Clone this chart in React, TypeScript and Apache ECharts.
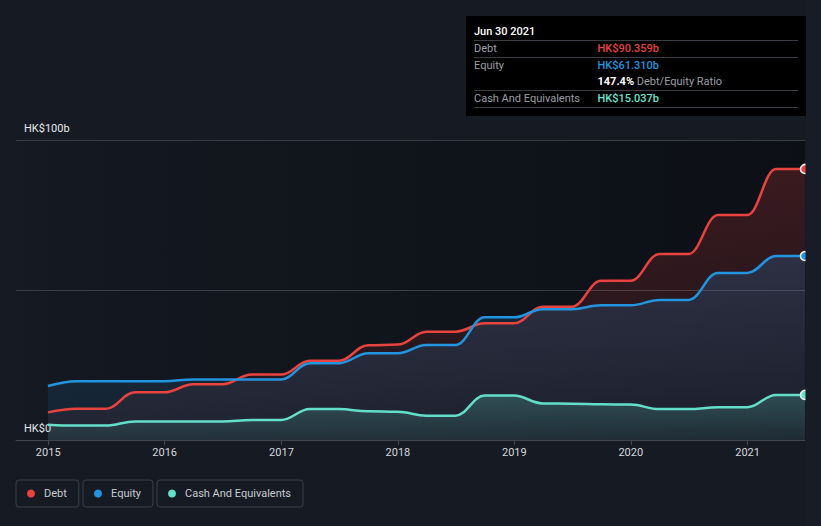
import React, { useEffect, useRef } from 'react';
import * as echarts from 'echarts';

// Quarter-end dates
const dates = [
  '2014-12-31', '2015-03-31', '2015-06-30', '2015-09-30',
  '2015-12-31', '2016-03-31', '2016-06-30', '2016-09-30',
  '2016-12-31', '2017-03-31', '2017-06-30', '2017-09-30',
  '2017-12-31', '2018-03-31', '2018-06-30', '2018-09-30',
  '2018-12-31', '2019-03-31', '2019-06-30', '2019-09-30',
  '2019-12-31', '2020-03-31', '2020-06-30', '2020-09-30',
  '2020-12-31', '2021-03-31', '2021-06-30',
];

// HK$ billions
const debt = [
  9.2, 10.4, 10.4, 15.9, 15.9, 18.6, 18.6, 21.8, 21.8, 26.4, 26.4, 31.6,
  31.8, 36.1, 36.1, 38.9, 38.9, 44.4, 44.4, 53.1, 53.1, 62.0, 62.0, 75.0,
  75.0, 90.359, 90.359,
];
const equity = [
  18.0, 19.6, 19.6, 19.6, 19.6, 20.2, 20.2, 20.2, 20.2, 25.6, 25.6, 28.9,
  28.9, 31.7, 31.7, 40.9, 40.9, 43.6, 43.6, 44.9, 44.9, 46.7, 46.7, 55.7,
  55.7, 61.31, 61.31,
];
const cash = [
  5.1, 4.8, 4.8, 6.2, 6.2, 6.2, 6.2, 6.7, 6.7, 10.3, 10.3, 9.6,
  9.4, 8.1, 8.1, 14.8, 14.8, 12.2, 12.1, 11.9, 11.8, 10.3, 10.3, 10.9,
  10.9, 15.037, 15.037,
];

const seriesNames = ['Debt', 'Equity', 'Cash And Equivalents'];
const seriesColors = ['#e8433f', '#2394df', '#63dfc9'];
const xTickDates = ['2015-01-01', '2016-01-01', '2017-01-01', '2018-01-01', '2019-01-01', '2020-01-01', '2021-01-01'];
const yTickValues = [0, 100];
const yTickLabels = ['HK$0', 'HK$100b'];
const xMin = '2014-09-22';
const xMax = '2021-06-30';

const monthNames = ['Jan', 'Feb', 'Mar', 'Apr', 'May', 'Jun', 'Jul', 'Aug', 'Sep', 'Oct', 'Nov', 'Dec'];

function ts(d: string) {
  const [y, m, dd] = d.split('-').map(Number);
  return Date.UTC(y, m - 1, dd);
}

function fmtDate(d: string) {
  const [y, m, dd] = d.split('-').map(Number);
  return `${monthNames[m - 1]} ${dd} ${y}`;
}

export default function App() {
  const ref = useRef<HTMLDivElement>(null);

  useEffect(() => {
    document.body.style.margin = '0';
    if (!ref.current) return;
    const chart = echarts.init(ref.current, undefined, { renderer: 'svg' });

    const font = 'Roboto';
    const seriesData = [debt, equity, cash];
    const alphas = [
      [0.3, 0.08],
      [0.28, 0.12],
      [0.32, 0.1],
    ];
    const rgb = [
      [232, 67, 63],
      [35, 148, 223],
      [99, 223, 201],
    ];
    const last = dates.length - 1;

    const series = seriesData.map((arr, si) => ({
      name: seriesNames[si],
      type: 'line',
      smooth: 0.4,
      smoothMonotone: 'x',
      symbol: 'none',
      showSymbol: true,
      lineStyle: { color: seriesColors[si], width: 2.5 },
      itemStyle: { color: seriesColors[si] },
      areaStyle: {
        color: new echarts.graphic.LinearGradient(0, 0, 0, 1, [
          { offset: 0, color: `rgba(${rgb[si].join(',')},${alphas[si][0]})` },
          { offset: 1, color: `rgba(${rgb[si].join(',')},${alphas[si][1]})` },
        ]),
      },
      emphasis: { disabled: true },
      data: arr.map((v, i) =>
        i === last
          ? {
              value: [ts(dates[i]), v],
              symbol: 'circle',
              symbolSize: 9,
              itemStyle: { color: seriesColors[si], borderColor: '#ffffff', borderWidth: 1.5 },
            }
          : { value: [ts(dates[i]), v] }
      ),
    }));

    const legendLefts = [16, 83, 157];
    const legends = seriesNames.map((n, i) => ({
      data: [{ name: n, icon: 'circle' }],
      left: legendLefts[i],
      top: 480,
      orient: 'horizontal',
      itemWidth: 8,
      itemHeight: 8,
      padding: [7, 12, 7, 11],
      borderColor: '#3b3f48',
      borderWidth: 1,
      borderRadius: 3,
      selectedMode: false,
      textStyle: {
        color: '#c9ccd1',
        fontSize: 11,
        fontFamily: font,
        lineHeight: 13,
        padding: [0, 0, 0, 4],
      },
    }));

    const dv = debt[last];
    const ev = equity[last];
    const cv = cash[last];
    const ratio = ((dv / ev) * 100).toFixed(1) + '%';

    const sep = (y: number) => ({
      type: 'line',
      z: 101,
      shape: { x1: 474, y1: y, x2: 798, y2: y },
      style: { stroke: '#3a3d44', lineWidth: 1 },
    });
    const txt = (x: number, y: number, text: string, fill: string, weight: string | number = 'normal') => ({
      type: 'text',
      z: 101,
      x,
      y,
      style: { text, fill, fontSize: 11, fontFamily: font, fontWeight: weight, verticalAlign: 'middle', align: 'left' },
    });

    const graphic = [
      { type: 'rect', z: 50, shape: { x: 805.5, y: 0, width: 16, height: 526 }, style: { fill: '#171c27' } },
      { type: 'rect', z: 100, shape: { x: 466, y: 16, width: 340, height: 100 }, style: { fill: '#000000' } },
      txt(474, 31, fmtDate(dates[last]), '#ffffff', 500),
      sep(40.5),
      txt(474, 48.5, seriesNames[0], '#9b9fa6'),
      txt(597.5, 48.5, `HK$${dv.toFixed(3)}b`, seriesColors[0], 500),
      sep(57.5),
      txt(474, 65.5, seriesNames[1], '#9b9fa6'),
      txt(597.5, 65.5, `HK$${ev.toFixed(3)}b`, seriesColors[1], 500),
      {
        type: 'text',
        z: 101,
        x: 597.5,
        y: 81.5,
        style: {
          text: `{a|${ratio}} {b|Debt/Equity Ratio}`,
          verticalAlign: 'middle',
          align: 'left',
          rich: {
            a: { fill: '#ffffff', fontSize: 11, fontFamily: font, fontWeight: 'bold' },
            b: { fill: '#9b9fa6', fontSize: 11, fontFamily: font, fontWeight: 'normal' },
          },
          fontSize: 11,
          fontFamily: font,
          fill: '#9b9fa6',
        },
      },
      sep(90.5),
      txt(474, 98.5, seriesNames[2], '#9b9fa6'),
      txt(597.5, 98.5, `HK$${cv.toFixed(3)}b`, '#6ae3cf', 500),
      sep(107.5),
    ];

    const xTicks = xTickDates.map(ts);

    chart.setOption({
      animation: false,
      backgroundColor: '#151a23',
      grid: {
        left: 16,
        right: 16,
        top: 140,
        bottom: 86,
        show: true,
        borderWidth: 0,
        backgroundColor: new echarts.graphic.LinearGradient(0, 0, 1, 0, [
          { offset: 0, color: '#151a23' },
          { offset: 0.05, color: '#141820' },
          { offset: 1, color: '#0c0f16' },
        ]),
      },
      legend: legends,
      xAxis: {
        type: 'value',
        min: ts(xMin),
        max: ts(xMax),
        axisLine: { lineStyle: { color: '#42464f', width: 1 } },
        axisTick: { show: true, length: 5, lineStyle: { color: '#42464f' }, customValues: xTicks },
        splitLine: { show: false },
        axisLabel: {
          customValues: xTicks,
          color: '#d5d8dc',
          fontSize: 11,
          fontFamily: font,
          margin: 7,
          formatter: (v: number) => String(new Date(v).getUTCFullYear()),
        },
      },
      yAxis: {
        type: 'value',
        min: 0,
        max: 100,
        interval: 50,
        axisLine: { show: false },
        axisTick: { show: false },
        splitLine: { lineStyle: { color: '#393d46', width: 1 } },
        axisLabel: {
          inside: true,
          margin: 8,
          color: '#e6e8eb',
          fontSize: 11,
          fontFamily: font,
          verticalAlign: 'bottom',
          padding: [0, 0, 6, 0],
          formatter: (v: number) => {
            const k = yTickValues.indexOf(v);
            return k >= 0 ? yTickLabels[k] : '';
          },
        },
      },
      series,
      graphic,
    });

    return () => chart.dispose();
  }, []);

  return <div ref={ref} style={{ width: 821, height: 526, background: '#151a23' }} />;
}
